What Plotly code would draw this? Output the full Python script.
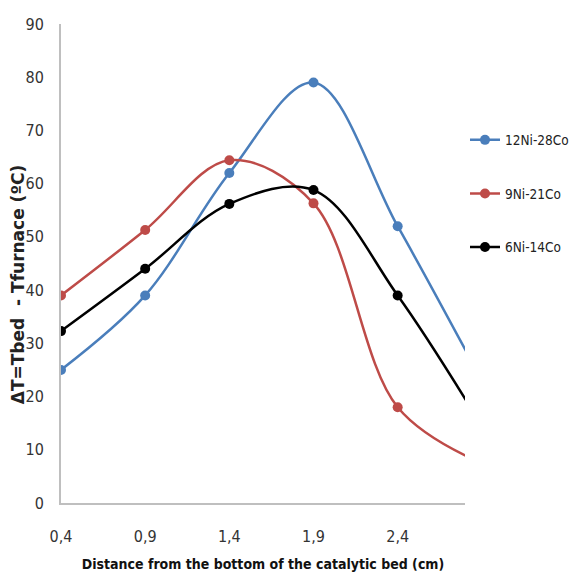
import plotly.graph_objects as go

# Distance from the bottom of the catalytic bed (cm); the last point lies past the visible axis end
distance = [0.4, 0.9, 1.4, 1.9, 2.4, 2.9]
tick_vals = [0.4, 0.9, 1.4, 1.9, 2.4]
tick_text = ["0,4", "0,9", "1,4", "1,9", "2,4"]

ni12_co28 = [25, 39, 62, 79, 52, 23]
ni9_co21 = [39, 51.3, 64.4, 56.3, 18, 7.5]
ni6_co14 = [32.3, 44, 56.2, 58.8, 39, 14.5]

series = [
    ("12Ni-28Co", ni12_co28, "#4a7ebb"),
    ("9Ni-21Co", ni9_co21, "#be4b48"),
    ("6Ni-14Co", ni6_co14, "#000000"),
]

font_family = "DejaVu Sans Condensed, Liberation Sans Narrow, Arial Narrow, sans-serif"

fig = go.Figure()
for i, (name, vals, color) in enumerate(series):
    fig.add_trace(go.Scatter(
        x=distance, y=vals, name=name, legendgroup=f"g{i}",
        mode="lines+markers",
        line=dict(color=color, width=2.5, shape="spline", smoothing=1.0),
        marker=dict(color=color, size=10),
    ))

# y-axis title, set slightly below the middle of the axis
fig.add_annotation(
    text="<b>ΔT=Tbed  - Tfurnace (ºC)</b>",
    xref="paper", yref="paper", x=-0.106, y=0.455,
    xanchor="center", yanchor="middle", textangle=-90, showarrow=False,
    font=dict(family="DejaVu Sans, Arial, sans-serif", size=17, color="#222222"),
)

fig.update_layout(
    width=572, height=577,
    margin=dict(l=61, r=107, t=24, b=74, autoexpand=False),
    paper_bgcolor="white", plot_bgcolor="white",
    font=dict(family=font_family, size=16, color="#333333"),
    showlegend=True,
    legend=dict(
        x=1.0, y=0.79, xanchor="left", yanchor="top",
        font=dict(family=font_family, size=13.5, color="#222222"),
        tracegroupgap=33, itemwidth=30,
        bgcolor="rgba(0,0,0,0)",
    ),
    xaxis=dict(
        range=[0.4, 2.8], tickvals=tick_vals, ticktext=tick_text,
        showgrid=False, zeroline=False,
        showline=True, linecolor="#bfbfbf", linewidth=2,
        ticks="", ticklen=0, ticklabelstandoff=18,
        title=dict(text="<b>Distance from the bottom of the catalytic bed (cm)</b>",
                   font=dict(family=font_family, size=14, color="#111111"), standoff=14),
    ),
    yaxis=dict(
        range=[0, 90], dtick=10,
        showgrid=False, zeroline=False,
        showline=True, linecolor="#bfbfbf", linewidth=2,
        ticks="", ticklen=0, ticklabelstandoff=12,
    ),
)

fig.write_html("out.html")
